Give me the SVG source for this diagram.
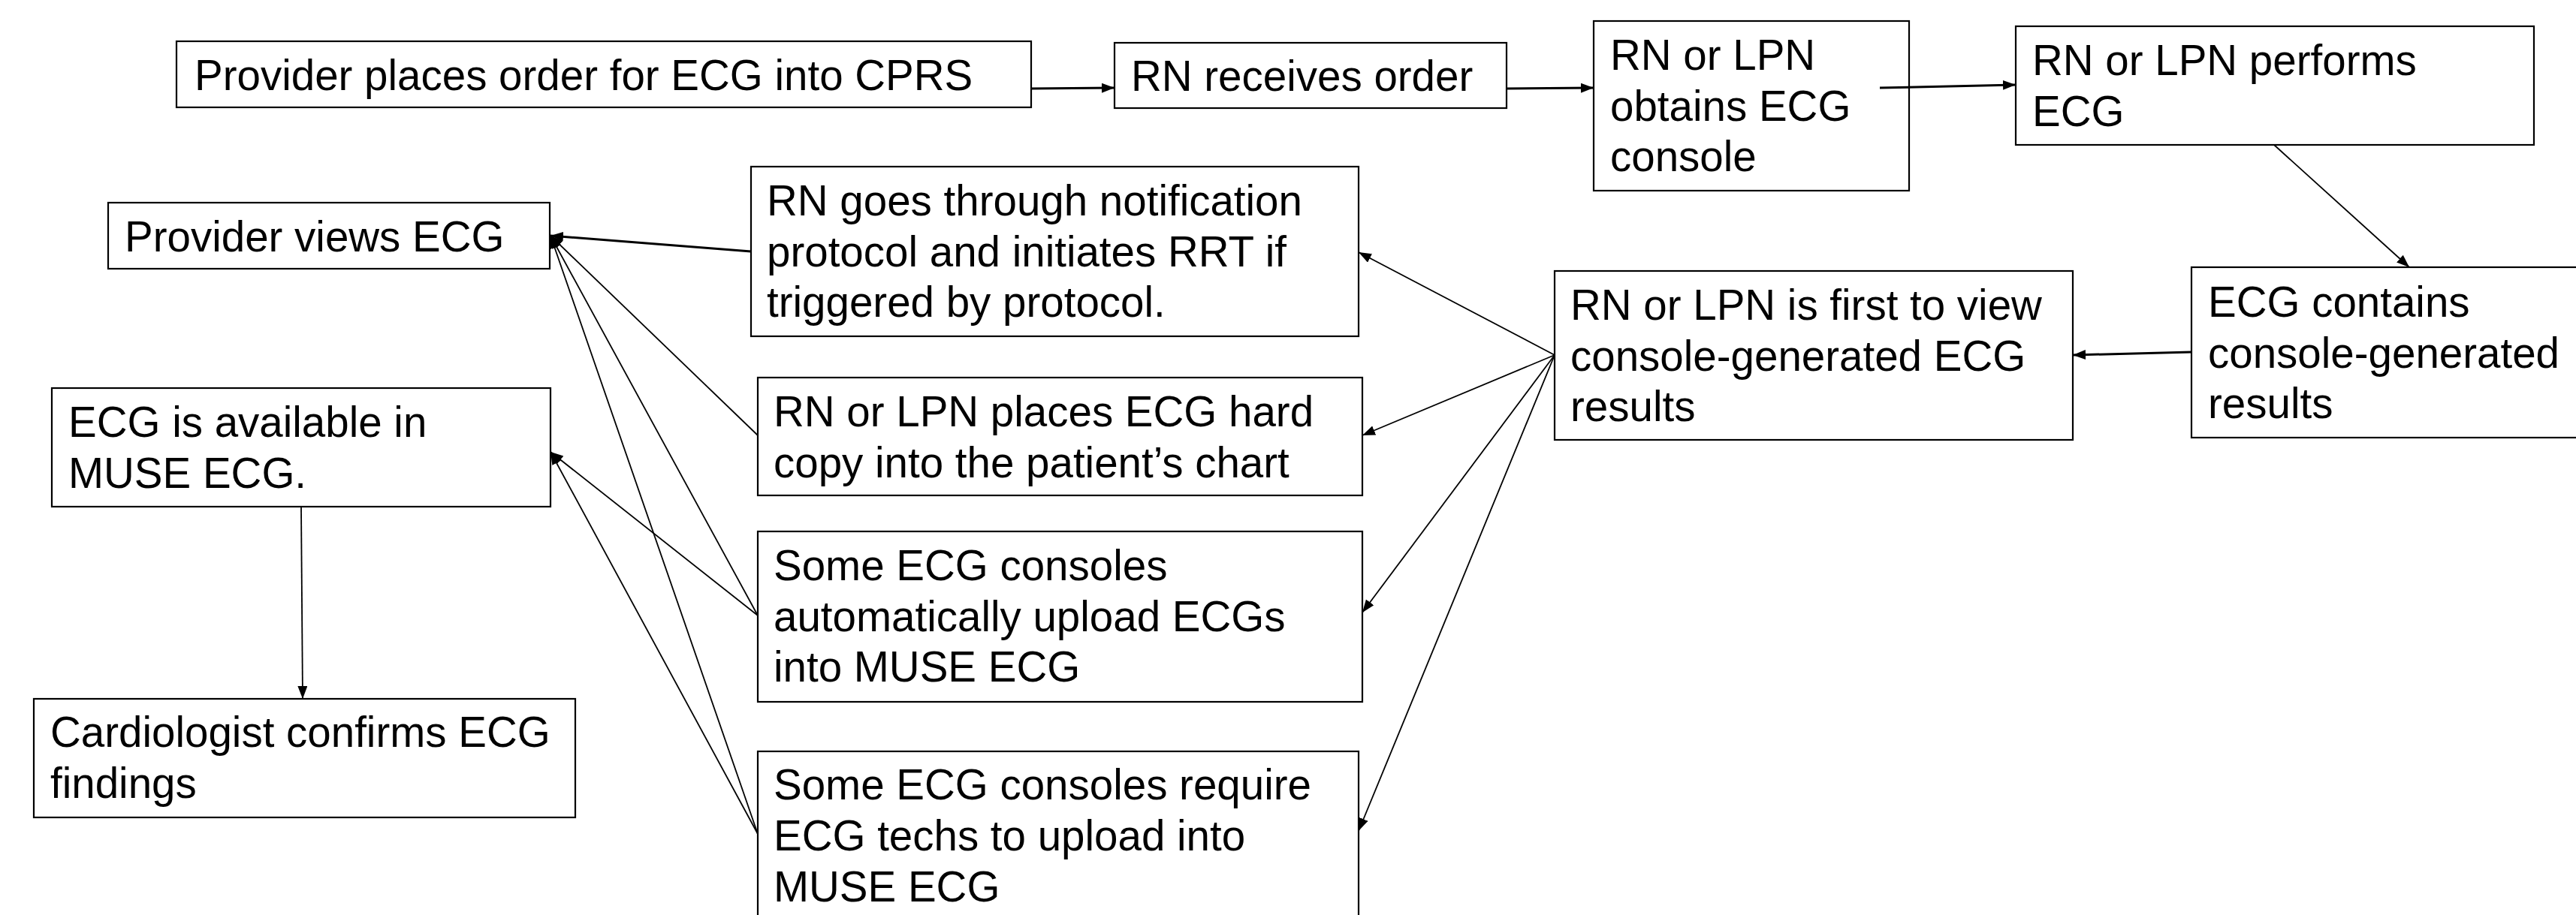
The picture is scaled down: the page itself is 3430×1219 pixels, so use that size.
<svg xmlns="http://www.w3.org/2000/svg" width="3430" height="1219" viewBox="0 0 3430 1219">
<style>
.box{fill:#fff;stroke:#000;stroke-width:2.2}
.t{font-family:"Liberation Sans",Arial,sans-serif;font-size:56.5px;fill:#000}
.c{fill:none;stroke:#000;stroke-width:1.8}
.ck{fill:none;stroke:#000;stroke-width:3}
</style>
<defs>
<marker id="ah" markerUnits="userSpaceOnUse" markerWidth="18" markerHeight="14" refX="17" refY="6.5" orient="auto">
<path d="M0,0 L17,6.5 L0,13 z" fill="#000"/>
</marker>
</defs>
<rect width="3430" height="1219" fill="#fff"/>

<g id="n1"><rect class="box" x="235" y="55" width="1138" height="88"/><text class="t" x="259" y="120">Provider places order for ECG into CPRS</text></g>
<g id="n2"><rect class="box" x="1484" y="57" width="522" height="87"/><text class="t" x="1506" y="121">RN receives order</text></g>
<g id="n3"><rect class="box" x="2122" y="28" width="420" height="226"/><text class="t" x="2144" y="93">RN or LPN</text><text class="t" x="2144" y="161">obtains ECG</text><text class="t" x="2144" y="228">console</text></g>
<g id="n4"><rect class="box" x="2684" y="35" width="690" height="158"/><text class="t" x="2706" y="100">RN or LPN performs</text><text class="t" x="2706" y="168">ECG</text></g>
<g id="n5"><rect class="box" x="2918" y="356" width="530" height="227"/><text class="t" x="2940" y="422">ECG contains</text><text class="t" x="2940" y="490">console-generated</text><text class="t" x="2940" y="557">results</text></g>
<g id="n6"><rect class="box" x="2070" y="361" width="690" height="225"/><text class="t" x="2091" y="426">RN or LPN is first to view</text><text class="t" x="2091" y="494">console-generated ECG</text><text class="t" x="2091" y="561">results</text></g>
<g id="n7"><rect class="box" x="1000" y="222" width="809" height="226"/><text class="t" x="1021" y="287">RN goes through notification</text><text class="t" x="1021" y="355">protocol and initiates RRT if</text><text class="t" x="1021" y="422">triggered by protocol.</text></g>
<g id="n8"><rect class="box" x="1009" y="503" width="805" height="157"/><text class="t" x="1030" y="568">RN or LPN places ECG hard</text><text class="t" x="1030" y="636">copy into the patient’s chart</text></g>
<g id="n9"><rect class="box" x="1009" y="708" width="805" height="227"/><text class="t" x="1030" y="773">Some ECG consoles</text><text class="t" x="1030" y="841">automatically upload ECGs</text><text class="t" x="1030" y="908">into MUSE ECG</text></g>
<g id="n10"><rect class="box" x="1009" y="1001" width="800" height="240"/><text class="t" x="1030" y="1065">Some ECG consoles require</text><text class="t" x="1030" y="1133">ECG techs to upload into</text><text class="t" x="1030" y="1201">MUSE ECG</text></g>
<g id="n11"><rect class="box" x="144" y="270" width="588" height="88"/><text class="t" x="166" y="335">Provider views ECG</text></g>
<g id="n12"><rect class="box" x="69" y="517" width="664" height="158"/><text class="t" x="91" y="582">ECG is available in</text><text class="t" x="91" y="650">MUSE ECG.</text></g>
<g id="n13"><rect class="box" x="45" y="931" width="721" height="158"/><text class="t" x="67" y="995">Cardiologist confirms ECG</text><text class="t" x="67" y="1063">findings</text></g>

<g id="connectors">
<line class="ck" x1="1373" y1="118" x2="1484" y2="117" marker-end="url(#ah)"/>
<line class="ck" x1="2006" y1="118" x2="2122" y2="117" marker-end="url(#ah)"/>
<line class="ck" x1="2503" y1="117" x2="2684" y2="113" marker-end="url(#ah)"/>
<line class="c" x1="3028" y1="193" x2="3208" y2="356" marker-end="url(#ah)"/>
<line class="ck" x1="2918" y1="469" x2="2760" y2="473" marker-end="url(#ah)"/>
<line class="c" x1="2070" y1="473" x2="1809" y2="336" marker-end="url(#ah)"/>
<line class="c" x1="2070" y1="473" x2="1814" y2="580" marker-end="url(#ah)"/>
<line class="c" x1="2070" y1="473" x2="1814" y2="816" marker-end="url(#ah)"/>
<line class="c" x1="2070" y1="473" x2="1809" y2="1107" marker-end="url(#ah)"/>
<line class="ck" x1="1000" y1="335" x2="733" y2="314" marker-end="url(#ah)"/>
<line class="c" x1="1009" y1="580" x2="733" y2="314" marker-end="url(#ah)"/>
<line class="c" x1="1009" y1="820" x2="733" y2="314" marker-end="url(#ah)"/>
<line class="c" x1="1009" y1="1111" x2="733" y2="314" marker-end="url(#ah)"/>
<line class="c" x1="1009" y1="820" x2="733" y2="602" marker-end="url(#ah)"/>
<line class="c" x1="1009" y1="1111" x2="733" y2="602" marker-end="url(#ah)"/>
<line class="c" x1="401" y1="675" x2="403" y2="931" marker-end="url(#ah)"/>
</g>
</svg>
